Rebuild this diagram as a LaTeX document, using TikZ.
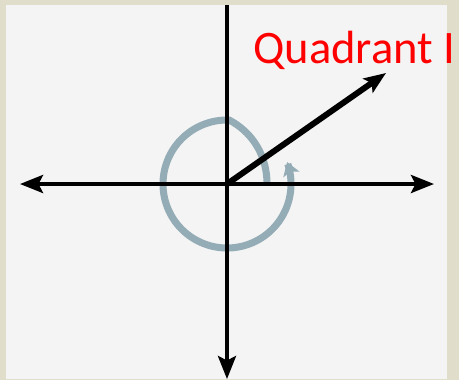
\documentclass[tikz,border=0pt]{standalone}
\usepackage{fontspec}
\newfontfamily\labelfont{Carlito}
\usetikzlibrary{arrows.meta}
\tikzset{
  axis/.style={-{Stealth[length=4.6mm, width=3.6mm, inset=0.9mm]}, line width=2.3pt},
  axisboth/.style={{Stealth[length=4.6mm, width=3.6mm, inset=0.9mm]}-{Stealth[length=4.6mm, width=3.6mm, inset=0.9mm]}, line width=2.3pt},
  vec/.style={-{Stealth[length=4.4mm, width=3.4mm, inset=0.9mm]}, line width=3.4pt},
  spinline/.style={-{Stealth[length=2.6mm, width=3.4mm, inset=0.6mm]}, line width=4pt, spin},
  lbl/.style={font=\labelfont\fontsize{26.5}{30}\selectfont, text=quad, inner sep=0pt},
}
\definecolor{frame}{RGB}{224,221,203}
\definecolor{panel}{RGB}{244,244,244}
\definecolor{spin}{RGB}{148,172,182}
\definecolor{quad}{RGB}{255,0,0}

\begin{document}
\begin{tikzpicture}[x=0.02cm, y=0.02cm]
  % frame and panel
  \fill[frame] (-227,-196) rectangle (232,184);
  \useasboundingbox (-227,-196) rectangle (232,184);
  \fill[panel] (-221,-195) rectangle (220,179);
  \coordinate (O) at (0,0);
  \coordinate (top) at (0,179);
  \coordinate (bot) at (0,-195);
  \coordinate (W) at (-207,0);
  \coordinate (E) at (207,0);
  \coordinate (tip) at (159,111);
  % rotation past one full turn
  \draw[spinline] plot[domain=0:380, samples=200, variable=\t]
    ({(40+24*pow(min(1,\t/88),2))*cos(\t)}, {(40+24*pow(min(1,\t/88),2))*sin(\t)});
  % axes
  \draw[axis] (top) -- (bot);
  \draw[axisboth] (W) -- (E);
  % terminal side
  \draw[vec] (O) -- (tip);
  \node[lbl, anchor=base west] (qlabel) at (26,121) {Quadrant I};
\end{tikzpicture}
\end{document}
